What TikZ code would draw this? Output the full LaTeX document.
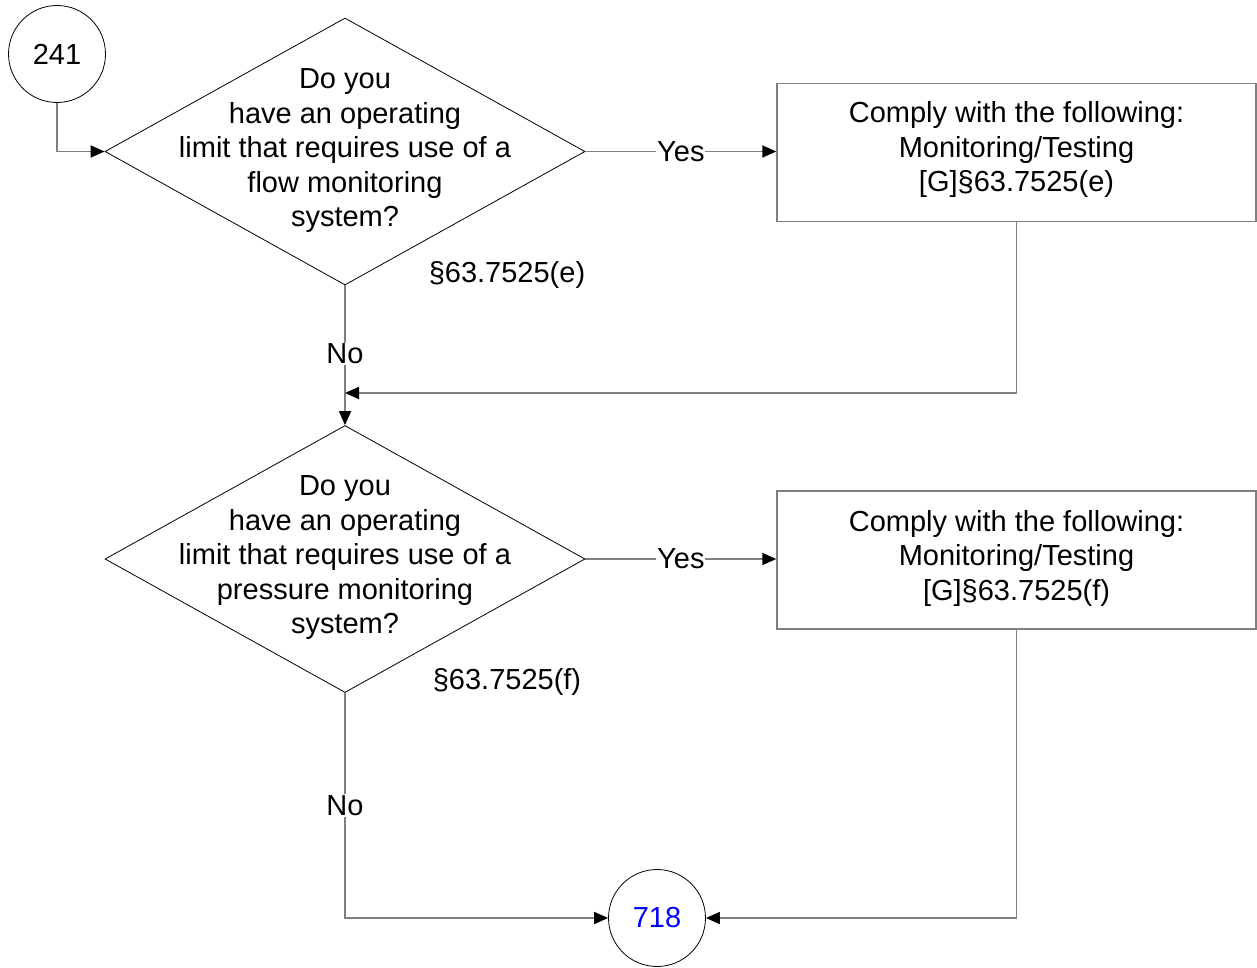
\documentclass[tikz,border=0pt]{standalone}
\usepackage{fontspec}
\setmainfont{Liberation Sans}
\usetikzlibrary{shapes.geometric,arrows.meta}
\begin{document}
\begin{tikzpicture}[x=1pt,y=-1pt,
  every node/.style={font=\fontsize{29}{34.5}\selectfont},
  dec/.style={diamond,draw=black,line width=0.8pt,minimum width=480pt,minimum height=267pt,inner sep=0pt},
  txt/.style={align=center,inner sep=0pt},
  conn/.style={draw=gray,line width=1.8pt},
  arr/.style={conn,-{Triangle[length=14pt,width=12pt,color=black]}},
  boxn/.style={draw=gray,line width=1.5pt,minimum width=479pt,minimum height=138pt,inner sep=0pt},
  term/.style={circle,draw=black,line width=0.8pt,minimum size=97pt,inner sep=0pt},
  lbl/.style={fill=white,inner sep=1pt}]
\useasboundingbox (0,0) rectangle (1257,968);
% terminals
\node[term] (c241) at (57,54) {241};
\node[term,text={rgb,255:red,0;green,0;blue,255}] (c718) at (657,918) {718};
% decisions
\node[dec] (d1) at (345,151.5) {};
\node[txt] (t1) at (345,151) {Do you\\have an operating\\limit that requires use of a\\flow monitoring\\system?};
\node[dec] (d2) at (345,559) {};
\node[txt] (t2) at (345,558) {Do you\\have an operating\\limit that requires use of a\\pressure monitoring\\system?};
\node[txt] (r1) at (507,275) {§63.7525(e)};
\node[txt] (r2) at (507,682) {§63.7525(f)};
% boxes
\node[boxn] (b1) at (1016.5,152.5) {};
\node[txt] (bt1) at (1016.5,150) {Comply with the following:\\Monitoring/Testing\\{}[G]§63.7525(e)};
\node[boxn] (b2) at (1016.5,560) {};
\node[txt] (bt2) at (1016.5,558) {Comply with the following:\\Monitoring/Testing\\{}[G]§63.7525(f)};
% connectors
\coordinate (m1) at (345,393);
\draw[arr] (c241.south) |- (d1.west);
\draw[arr] (d1.east) -- node[lbl] (y1) {Yes} (d1.east -| b1.west);
\draw[arr] (d1.south) -- node[lbl,pos=0.49] (n1) {No} (d2.north);
\draw[arr] (b1.south) |- (m1);
\draw[arr] (d2.east) -- node[lbl] (y2) {Yes} (d2.east -| b2.west);
\draw[arr] (d2.south) |- node[lbl,pos=0.25] (n2) {No} (c718.west);
\draw[arr] (b2.south) |- (c718.east);
\end{tikzpicture}
\end{document}
